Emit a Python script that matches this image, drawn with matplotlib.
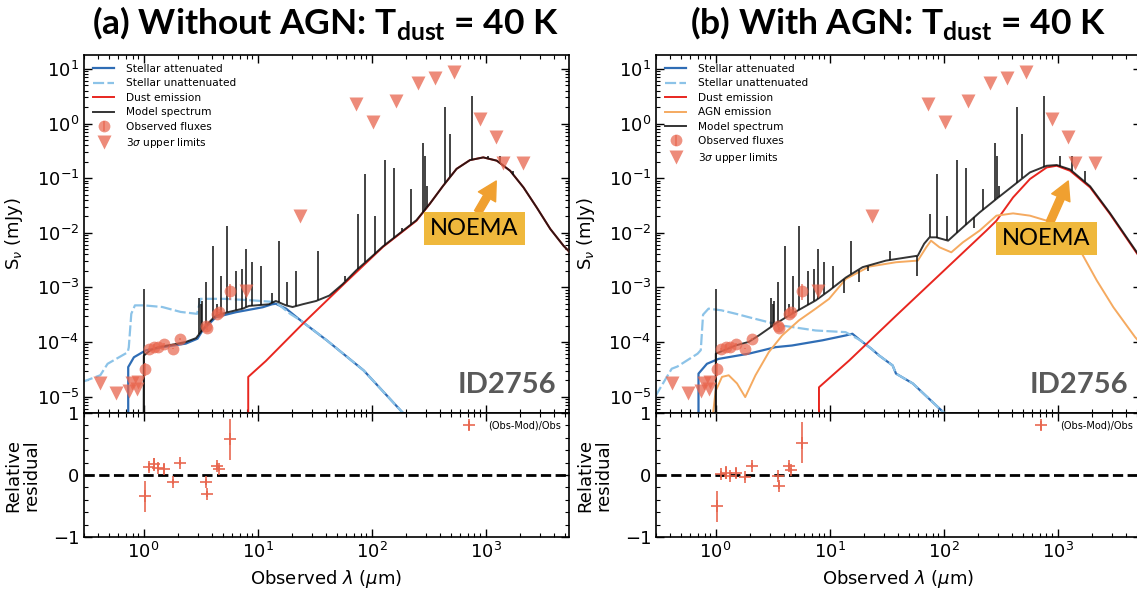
import numpy as np
import matplotlib
matplotlib.use("Agg")
import matplotlib.pyplot as plt
from matplotlib.ticker import LogLocator, NullFormatter, AutoMinorLocator

# all values: log10(wavelength / um), log10(flux / mJy)

# photometry (same galaxy in both fits)
obs_lx = [0.008, 0.048, 0.088, 0.128, 0.177, 0.26, 0.318, 0.546, 0.552, 0.645, 0.66, 0.757]
obs_ly = [-4.49, -4.13, -4.085, -4.09, -4.045, -4.12, -3.95, -3.70, -3.75, -3.48, -3.46, -3.065]
obs_relerr = [0.25, 0.06, 0.11, 0.05, 0.08, 0.04, 0.04, 0.05, 0.05, 0.05, 0.04, 0.33]
ul_lx = [-0.382, -0.241, -0.129, -0.10, -0.062, -0.047, 0.899, 1.376, 1.86, 2.013, 2.218,
         2.411, 2.558, 2.72, 2.955, 3.095, 3.15, 3.33]
ul_ly = [-4.745, -4.935, -4.89, -4.76, -4.865, -4.73, -3.075, -1.695, 0.36, 0.03, 0.41,
         0.735, 0.84, 0.94, 0.086, -0.246, -0.72, -0.72]

# emission lines of the model spectrum (position, top)
line_lx = [0.0, 0.487, 0.50, 0.515, 0.55, 0.61, 0.64, 0.68, 0.735, 0.81, 0.865, 0.90, 0.95,
           1.03, 1.13, 1.19, 1.254, 1.337, 1.53, 1.77, 1.877, 1.944, 2.03, 2.116, 2.197,
           2.27, 2.343, 2.452, 2.47, 2.486, 2.645, 2.692, 2.881, 3.02, 3.13, 3.245]
line_ly = [-3.03, -3.2, -3.3, -3.25, -2.9, -2.25, -3.3, -2.8, -1.87, -2.7, -2.66, -2.3, -2.54,
           -2.6, -3.1, -2.145, -2.9, -2.7, -2.33, -2.8, -1.66, -0.92, -1.7, -0.67, -0.81,
           -1.92, -1.2, -0.35, -0.6, -1.14, 0.3, -0.2, 0.5, -0.59, -0.6, -0.86]

# (a) without AGN
a_unatt_lx = [-0.54, -0.38, -0.316, -0.14, -0.13, -0.108, -0.076, 0.004, 0.164, 0.325, 0.469,
              0.50, 0.71, 0.966, 1.158, 1.286, 1.38, 1.607, 1.93, 2.28, 2.4]
a_unatt_ly = [-4.734, -4.61, -4.40, -4.19, -4.10, -3.485, -3.33, -3.33, -3.36, -3.45, -3.485,
              -3.21, -3.21, -3.24, -3.27, -3.485, -3.61, -3.97, -4.52, -5.31, -5.6]
a_att_lx = [-0.135, -0.135, -0.085, 0.018, 0.165, 0.37, 0.473, 0.517, 0.634, 0.81, 1.046,
            1.126, 1.16, 1.25, 1.38, 1.607, 1.93, 2.28, 2.4]
a_att_ly = [-6.0, -4.46, -4.28, -4.155, -4.095, -4.03, -3.94, -3.79, -3.546, -3.455, -3.364,
            -3.31, -3.30, -3.39, -3.61, -3.97, -4.52, -5.31, -5.6]
a_dust_lx = [0.918, 0.918, 1.072, 1.395, 1.777, 2.1, 2.394, 2.511, 2.628, 2.746, 2.863, 2.98,
             3.099, 3.216, 3.333, 3.45, 3.568, 3.685, 3.76]
a_dust_ly = [-6.0, -4.64, -4.35, -3.67, -2.90, -2.26, -1.78, -1.47, -1.14, -0.83, -0.67, -0.62,
             -0.68, -0.865, -1.17, -1.54, -1.93, -2.24, -2.40]
a_model_lx = [0.0, 0.002, 0.06, 0.135, 0.25, 0.37, 0.46, 0.49, 0.546, 0.634, 0.75, 0.87, 0.925,
              1.10, 1.16, 1.25, 1.307, 1.395, 1.513, 1.63, 1.747, 1.865, 2.0, 2.1, 2.394,
              2.511, 2.628, 2.746, 2.863, 2.98, 3.099, 3.216, 3.333, 3.45, 3.568, 3.685, 3.76]
a_model_ly = [-6.0, -4.25, -4.15, -4.09, -4.05, -4.0, -3.93, -3.85, -3.70, -3.515, -3.45, -3.39,
              -3.34, -3.31, -3.25, -3.33, -3.36, -3.31, -3.25, -3.15, -2.94, -2.69, -2.44,
              -2.25, -1.77, -1.47, -1.14, -0.83, -0.67, -0.62, -0.68, -0.865, -1.17, -1.54,
              -1.93, -2.24, -2.40]
a_resid = [-0.34, 0.13, 0.17, 0.11, 0.10, -0.11, 0.20, -0.11, -0.30, 0.14, 0.10, 0.58]

# (b) with AGN
b_unatt_lx = [-0.53, -0.385, -0.335, -0.158, -0.13, -0.11, -0.062, 0.05, 0.18, 0.29, 0.467,
              0.584, 0.878, 1.14, 1.27, 1.364, 1.436, 1.553, 1.583, 1.73, 2.01, 2.2]
b_unatt_ly = [-5.0, -4.49, -4.45, -4.215, -4.15, -3.50, -3.39, -3.42, -3.485, -3.546, -3.64,
              -3.70, -3.79, -3.82, -3.97, -4.12, -4.25, -4.43, -4.58, -4.76, -5.31, -5.6]
b_att_lx = [-0.15, -0.15, -0.076, 0.026, 0.29, 0.41, 0.526, 0.67, 0.937, 1.143, 1.20, 1.27,
            1.364, 1.436, 1.553, 1.583, 1.73, 2.01, 2.2]
b_att_ly = [-6.0, -4.58, -4.40, -4.31, -4.215, -4.155, -4.095, -4.065, -3.97, -3.88, -3.85,
            -3.97, -4.12, -4.25, -4.43, -4.58, -4.76, -5.31, -5.6]
b_agn_lx = [-0.06, 0.0, 0.056, 0.115, 0.188, 0.26, 0.35, 0.467, 0.584, 0.73, 0.878, 0.996,
            1.143, 1.348, 1.583, 1.774, 1.848, 1.89, 1.965, 2.068, 2.17, 2.317, 2.464, 2.61,
            2.758, 2.905, 3.05, 3.2, 3.345, 3.49, 3.68, 3.76]
b_agn_ly = [-6.0, -4.9, -4.64, -4.61, -4.76, -5.01, -4.61, -4.186, -3.88, -3.607, -3.39, -3.21,
            -2.845, -2.62, -2.54, -2.51, -2.267, -2.145, -2.267, -2.358, -2.175, -1.96, -1.687,
            -1.645, -1.687, -1.779, -2.02, -2.33, -2.876, -3.364, -3.91, -4.1]
b_dust_lx = [0.907, 0.907, 1.172, 1.583, 2.0, 2.376, 2.464, 2.61, 2.758, 2.905, 2.993, 3.11,
             3.286, 3.46, 3.70, 3.76]
b_dust_ly = [-6.0, -4.83, -4.34, -3.52, -2.70, -1.96, -1.78, -1.353, -1.016, -0.804, -0.773,
             -0.865, -1.17, -1.656, -2.388, -2.55]
b_model_lx = [0.0, 0.002, 0.174, 0.29, 0.38, 0.526, 0.643, 0.878, 0.996, 1.143, 1.29, 1.495,
              1.774, 1.83, 1.877, 1.936, 2.04, 2.17, 2.317, 2.464, 2.61, 2.758, 2.905, 2.993,
              3.11, 3.286, 3.46, 3.70, 3.76]
b_model_ly = [-6.0, -4.215, -4.065, -4.0, -3.88, -3.667, -3.516, -3.24, -3.06, -2.82, -2.63,
              -2.51, -2.42, -2.20, -2.084, -2.084, -2.145, -1.9, -1.627, -1.38, -1.14, -0.895,
              -0.773, -0.76, -0.84, -1.15, -1.64, -2.37, -2.53]
b_resid = [-0.505, 0.01, 0.04, -0.02, 0.03, -0.04, 0.15, -0.02, -0.17, 0.14, 0.08, 0.52]

c_att = '#2f6db5'
c_unatt = '#8cc3e8'
c_dust = '#e8261f'
c_agn = '#f5aa60'
c_obs = '#e8654d'

plt.rcParams['font.family'] = 'DejaVu Sans'
plt.rcParams['mathtext.fontset'] = 'dejavusans'
plt.rcParams['mathtext.bf'] = 'Lato:bold'
plt.rcParams['mathtext.rm'] = 'Lato'

fig = plt.figure(figsize=(11.37, 5.90), dpi=100)
W, H = 1137, 590


def p(v):
    return 10 ** np.asarray(v)


def style(ax, log_y):
    ax.set_xscale('log')
    ax.set_xlim(0.3, 5400)
    ax.xaxis.set_minor_locator(LogLocator(base=10, subs=np.arange(2, 10), numticks=20))
    ax.xaxis.set_minor_formatter(NullFormatter())
    if log_y:
        ax.set_yscale('log')
        ax.yaxis.set_major_locator(LogLocator(base=10, numticks=20))
        ax.yaxis.set_minor_locator(LogLocator(base=10, subs=np.arange(2, 10), numticks=20))
        ax.yaxis.set_minor_formatter(NullFormatter())
    else:
        ax.yaxis.set_minor_locator(AutoMinorLocator(5))
    ax.tick_params(which='both', direction='in', top=True, right=True, labelsize=13)
    ax.tick_params(which='major', length=6, width=1)
    ax.tick_params(which='minor', length=3, width=0.8)
    for s in ax.spines.values():
        s.set_linewidth(1.2)


def panel(x0, title, unatt, att, dust, agn, model, resid, tag, noema_y):
    ax = fig.add_axes([x0 / W, 1 - 413 / H, 485 / W, 358 / H])
    rx = fig.add_axes([x0 / W, 1 - 537 / H, 485 / W, 124 / H], sharex=ax)
    style(ax, True)
    style(rx, False)

    h = []
    h += ax.plot(p(att[0]), p(att[1]), color=c_att, lw=1.6, label='Stellar attenuated', zorder=2)
    h += ax.plot(p(unatt[0]), p(unatt[1]), color=c_unatt, lw=1.6, ls=(0, (5, 1.5)),
                 label='Stellar unattenuated', zorder=2)
    h += ax.plot(p(dust[0]), p(dust[1]), color=c_dust, lw=1.4, label='Dust emission', zorder=3)
    if agn is not None:
        h += ax.plot(p(agn[0]), p(agn[1]), color=c_agn, lw=1.4, label='AGN emission', zorder=3)
    h += ax.plot(p(model[0]), p(model[1]), color='#111111', lw=1.4, alpha=0.85,
                 label='Model spectrum', zorder=4)
    base = np.interp(line_lx, model[0], model[1])
    ax.vlines(p(line_lx), p(base), p(line_ly), color='#111111', lw=1.3, alpha=0.85, zorder=4)

    oy = p(obs_ly)
    h.append(ax.errorbar(p(obs_lx), oy, yerr=oy * np.array(obs_relerr), fmt='o', ms=8.5,
                         color=c_obs, alpha=0.7, mec='none', elinewidth=1.3,
                         label='Observed fluxes', zorder=5))
    h += ax.plot(p(ul_lx), p(ul_ly), 'v', ms=10.5, color=c_obs, alpha=0.75, mec='none',
                 label=r'3$\sigma$ upper limits', zorder=5)

    ax.set_ylim(5e-6, 18)
    ax.tick_params(labelbottom=False)
    ax.set_ylabel(r'S$_\nu$ (mJy)', fontsize=13)
    ax.yaxis.set_label_coords(-0.122, 0.5)
    ax.legend(handles=h, loc='upper left', fontsize=7.6, frameon=False, handlelength=2.0,
              labelspacing=0.42, borderaxespad=0.45, handletextpad=1.1)

    ax.text(0.872, 0.078, tag, transform=ax.transAxes, ha='center', va='center',
            fontsize=21, fontweight='bold', color='#595959', family='Lato')

    # NOEMA call-out
    ax.annotate('', xy=(0.850, 0.648), xytext=(0.812, noema_y + 0.045),
                xycoords='axes fraction',
                arrowprops=dict(arrowstyle='simple,head_width=0.65,head_length=0.6,tail_width=0.25',
                                color='#f0a030', mutation_scale=22, shrinkA=0, shrinkB=0))
    ax.text(0.805, noema_y, 'NOEMA', transform=ax.transAxes,
            ha='center', va='center', fontsize=17, family='Lato', color='black', zorder=6,
            bbox=dict(boxstyle='square,pad=0.25', fc='#efb83c', ec='none'))

    rx.errorbar(p(obs_lx), resid, yerr=np.array(obs_relerr), fmt='+', ms=9, mew=1.3,
                color=c_obs, alpha=0.9, elinewidth=1.3, label='(Obs-Mod)/Obs')
    rx.axhline(0, color='k', ls='--', lw=2.0)
    rx.set_ylim(-1, 1)
    rx.set_yticks([-1, 0, 1])
    rx.set_xlabel(r'Observed $\lambda$ ($\mu$m)', fontsize=13)
    rx.set_ylabel('Relative\nresidual', fontsize=13, linespacing=1.0)
    rx.yaxis.set_label_coords(-0.09, 0.5)
    rx.legend(loc='upper right', fontsize=7.0, frameon=False, handletextpad=1.0,
              borderaxespad=0.4)

    fig.text((x0 + 242) / W, 1 - 23 / H, title, ha='center', va='center', fontsize=25.5,
             fontweight='bold', family='Lato', math_fontfamily='custom')
    return ax, rx


panel(84, r'(a) Without AGN: T$_\mathbf{dust}$ = 40 K',
      (a_unatt_lx, a_unatt_ly), (a_att_lx, a_att_ly), (a_dust_lx, a_dust_ly), None,
      (a_model_lx, a_model_ly), a_resid, 'ID2756', 0.515)
panel(656, r'(b) With AGN: T$_\mathbf{dust}$ = 40 K',
      (b_unatt_lx, b_unatt_ly), (b_att_lx, b_att_ly), (b_dust_lx, b_dust_ly),
      (b_agn_lx, b_agn_ly), (b_model_lx, b_model_ly), b_resid, 'ID2756', 0.487)

fig.savefig('out.png', dpi=100)
